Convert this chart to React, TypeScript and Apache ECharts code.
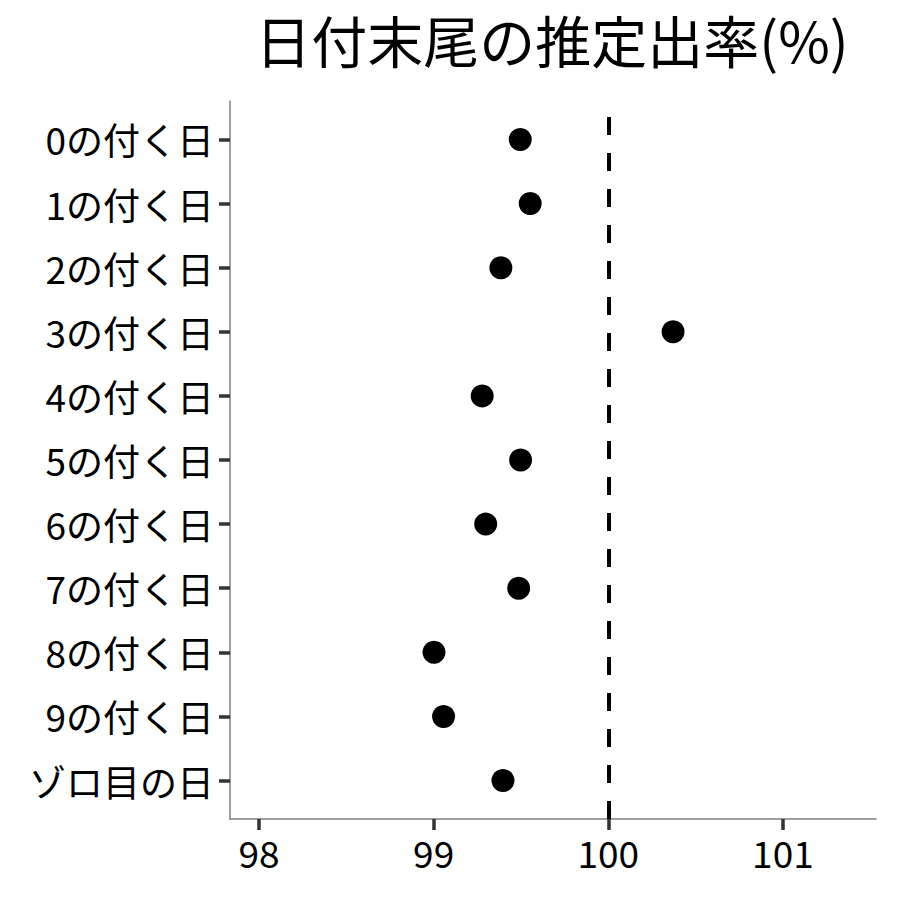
import React, { useEffect, useRef } from "react";
import * as echarts from "echarts";

const categories = [
  "0の付く日",
  "1の付く日",
  "2の付く日",
  "3の付く日",
  "4の付く日",
  "5の付く日",
  "6の付く日",
  "7の付く日",
  "8の付く日",
  "9の付く日",
  "ゾロ目の日",
];
const rates = [99.496, 99.553, 99.385, 100.371, 99.278, 99.498, 99.298, 99.487, 99.002, 99.057, 99.397];
const xTicks = [98, 99, 100, 101];
const referenceValue = 100;
const titleText = "日付末尾の推定出率(%)";

const FONT = '"Noto Sans CJK JP", "Noto Sans", sans-serif';

export default function App() {
  const ref = useRef<HTMLDivElement>(null);
  useEffect(() => {
    if (!ref.current) return;
    const chart = echarts.init(ref.current, null, { renderer: "svg" });
    const yIdx = categories.map((_, i) => i);
    chart.setOption({
      animation: false,
      backgroundColor: "#ffffff",
      textStyle: { fontFamily: FONT },
      graphic: [
        {
          type: "text",
          x: 552,
          y: 10,
          style: {
            text: titleText,
            font: `56px ${FONT}`,
            fill: "#000",
            textAlign: "center",
            textVerticalAlign: "top",
          },
        },
      ],
      grid: { left: 230, right: 24, top: 101, bottom: 81, containLabel: false },
      xAxis: {
        type: "value",
        min: 97.834,
        max: 101.533,
        axisLine: { show: true, onZero: false, lineStyle: { color: "#7f7f7f", width: 1.5 } },
        axisTick: { show: true, customValues: xTicks, length: 11, lineStyle: { color: "#333", width: 3.5 } },
        axisLabel: {
          customValues: xTicks,
          fontSize: 37,
          color: "#000",
          margin: 14,
          fontFamily: FONT,
        },
        splitLine: { show: false },
      },
      yAxis: {
        type: "value",
        inverse: true,
        min: -0.6,
        max: 10.6,
        axisLine: { show: true, onZero: false, lineStyle: { color: "#7f7f7f", width: 1.5 } },
        axisTick: { show: true, customValues: yIdx, length: 11, lineStyle: { color: "#333", width: 3.5 } },
        axisLabel: {
          customValues: yIdx,
          fontSize: 37,
          color: "#000",
          margin: 16,
          fontFamily: FONT,
          formatter: (v: number) => categories[Math.round(v)] ?? "",
        },
        splitLine: { show: false },
      },
      series: [
        {
          type: "scatter",
          data: rates.map((v, i) => [v, i]),
          symbolSize: 23,
          itemStyle: { color: "#000", opacity: 1 },
          markLine: {
            silent: true,
            symbol: ["none", "none"],
            label: { show: false },
            lineStyle: { color: "#000", width: 4, type: [18, 18] },
            data: [[{ coord: [referenceValue, 10.6] }, { coord: [referenceValue, -0.6] }]],
          },
        },
      ],
    });
    return () => chart.dispose();
  }, []);
  return <div ref={ref} style={{ position: "absolute", left: 0, top: 0, width: 900, height: 900 }} />;
}
